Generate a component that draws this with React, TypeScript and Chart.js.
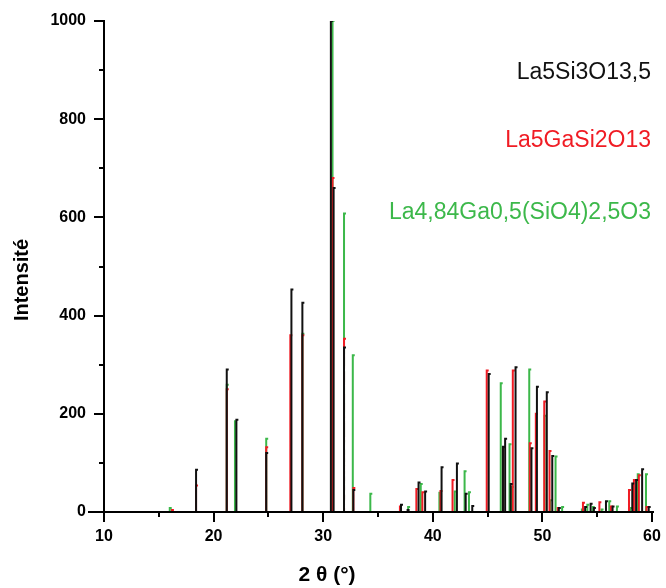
import React, { useEffect, useRef } from "react";
import { Chart, registerables } from "chart.js";

Chart.register(...registerables);

// La5Si3O13,5 (black)
const blackPos = [18.4, 21.2, 22.08, 24.8, 27.1, 28.1, 30.7, 30.95, 31.9, 32.75, 37.1, 37.7, 38.7, 39.3, 40.8, 42.2, 43.0, 43.6, 45.1, 46.4, 46.6, 47.1, 47.55, 49.0, 49.5, 50.4, 50.9, 51.5, 53.9, 54.4, 54.7, 55.8, 56.4, 58.2, 58.55, 59.1, 59.7];
const blackInt = [86, 290, 188, 120, 453, 426, 1000, 660, 335, 45, 15, 4, 60, 42, 91, 99, 37, 12, 281, 133, 149, 57, 295, 130, 255, 244, 114, 8, 10, 17, 8, 22, 11, 58, 65, 87, 10];

// La5GaSi2O13 (red)
const redPos = [16.2, 18.4, 21.2, 24.8, 27.0, 28.1, 30.85, 31.9, 32.75, 37.0, 38.5, 39.05, 40.7, 41.8, 44.92, 46.4, 47.3, 48.85, 49.4, 50.17, 50.65, 51.4, 53.7, 55.2, 56.25, 57.9, 58.35, 58.8, 59.5];
const redInt = [4, 54, 250, 132, 360, 360, 680, 353, 49, 11, 47, 40, 43, 65, 288, 132, 288, 140, 200, 225, 124, 8, 19, 20, 11, 45, 65, 75, 10];

// La4,84Ga0,5(SiO4)2,5O3 (green)
const greenPos = [16.0, 21.2, 21.95, 24.8, 28.1, 30.85, 31.9, 32.7, 34.3, 37.75, 38.9, 40.6, 42.0, 42.9, 43.3, 46.2, 47.0, 47.2, 48.8, 50.2, 50.7, 51.2, 51.8, 53.6, 54.1, 54.6, 55.4, 56.1, 56.8, 58.0, 58.7, 59.45];
const greenInt = [8, 259, 185, 149, 363, 1000, 608, 319, 37, 10, 57, 39, 42, 83, 40, 262, 138, 51, 290, 196, 24, 113, 10, 5, 15, 10, 5, 22, 11, 8, 77, 77];

const seriesNames = ["La5Si3O13,5", "La5GaSi2O13", "La4,84Ga0,5(SiO4)2,5O3"];
const seriesColors = ["#111111", "#f01c24", "#3cb84a"];

const xMajorTicks = [10, 20, 30, 40, 50, 60];
const yMajorTicks = [0, 200, 400, 600, 800, 1000];

const xTitle = "2 θ (°)";
const yTitle = "Intensité";

function sticks(pos: number[], ints: number[]) {
  const pts: { x: number; y: number | null }[] = [];
  pos.forEach((p, i) => {
    pts.push({ x: p, y: 0 });
    pts.push({ x: p, y: ints[i] });
    pts.push({ x: p + 0.18, y: ints[i] });
    pts.push({ x: p, y: null });
  });
  return pts;
}

const FONT = '"Liberation Sans", Arial, sans-serif';

const decorPlugin = {
  id: "decor",
  afterDraw(chart: any) {
    const { ctx, scales } = chart;
    const x = scales.x;
    const y = scales.y;
    ctx.save();
    ctx.strokeStyle = "#000";
    ctx.lineWidth = 2;
    ctx.lineCap = "butt";
    ctx.beginPath();
    ctx.moveTo(x.left - 16, y.bottom);
    ctx.lineTo(x.right + 2, y.bottom);
    ctx.stroke();
    for (let v = 10; v <= 60; v += 5) {
      const px = Math.round(x.getPixelForValue(v));
      const len = v % 10 === 0 ? 10 : 5;
      ctx.beginPath();
      ctx.moveTo(px, y.bottom);
      ctx.lineTo(px, y.bottom + len);
      ctx.stroke();
    }
    for (let v = 100; v <= 1000; v += 100) {
      const py = Math.round(y.getPixelForValue(v));
      const len = v % 200 === 0 ? 10 : 5;
      ctx.beginPath();
      ctx.moveTo(x.left - len, py);
      ctx.lineTo(x.left, py);
      ctx.stroke();
    }
    ctx.fillStyle = "#000";
    ctx.font = `bold 21px ${FONT}`;
    ctx.textAlign = "center";
    ctx.textBaseline = "middle";
    ctx.fillText(xTitle, 327, 575);
    ctx.save();
    ctx.translate(22, 280);
    ctx.rotate(-Math.PI / 2);
    ctx.font = `bold 20px ${FONT}`;
    ctx.fillText(yTitle, 0, 0);
    ctx.restore();
    ctx.font = `23px ${FONT}`;
    ctx.textAlign = "right";
    const ys = [73, 141, 213];
    seriesNames.forEach((n, i) => {
      ctx.fillStyle = seriesColors[i];
      ctx.fillText(n, 651, ys[i]);
    });
    ctx.restore();
  },
};

export default function App() {
  const ref = useRef<HTMLCanvasElement | null>(null);
  useEffect(() => {
    document.body.style.margin = "0";
    const canvas = ref.current;
    if (!canvas) return;
    const chart = new Chart(canvas, {
      type: "line",
      data: {
        datasets: [
          { label: seriesNames[0], data: sticks(blackPos, blackInt), borderColor: seriesColors[0], order: 0 },
          { label: seriesNames[1], data: sticks(redPos, redInt), borderColor: seriesColors[1], order: 1 },
          { label: seriesNames[2], data: sticks(greenPos, greenInt), borderColor: seriesColors[2], order: 2 },
        ] as any,
      },
      options: {
        animation: false,
        responsive: true,
        maintainAspectRatio: false,
        spanGaps: false,
        elements: {
          point: { radius: 0, hoverRadius: 0 },
          line: { borderWidth: 2, tension: 0, borderCapStyle: "butt", borderJoinStyle: "miter" },
        },
        layout: { padding: { top: 21, right: 14, left: 0, bottom: 0 } },
        plugins: { legend: { display: false }, tooltip: { enabled: false } },
        scales: {
          x: {
            type: "linear",
            min: 10,
            max: 60,
            afterFit: (s: any) => { s.height = 76; s.paddingRight = 0; s.paddingLeft = 0; },
            afterBuildTicks: (s: any) => { s.ticks = xMajorTicks.map((v) => ({ value: v })); },
            grid: { display: false, drawTicks: false },
            border: { display: true, color: "#000", width: 2 },
            ticks: {
              padding: 15,
              color: "#000",
              font: { family: FONT, size: 16, weight: "bold" },
              callback: (v: any) => String(v),
            },
          },
          y: {
            type: "linear",
            min: 0,
            max: 1000,
            afterFit: (s: any) => { s.width = 104; s.paddingTop = 0; s.paddingBottom = 0; },
            afterBuildTicks: (s: any) => { s.ticks = yMajorTicks.map((v) => ({ value: v })); },
            grid: { display: false, drawTicks: false },
            border: { display: true, color: "#000", width: 2 },
            ticks: {
              padding: 18,
              color: "#000",
              font: { family: FONT, size: 16, weight: "bold" },
              callback: (v: any) => String(v),
            },
          },
        },
      } as any,
      plugins: [decorPlugin],
    });
    return () => chart.destroy();
  }, []);
  return (
    <div style={{ position: "absolute", left: 0, top: 0, width: 666, height: 588, background: "#fff" }}>
      <canvas ref={ref} />
    </div>
  );
}
